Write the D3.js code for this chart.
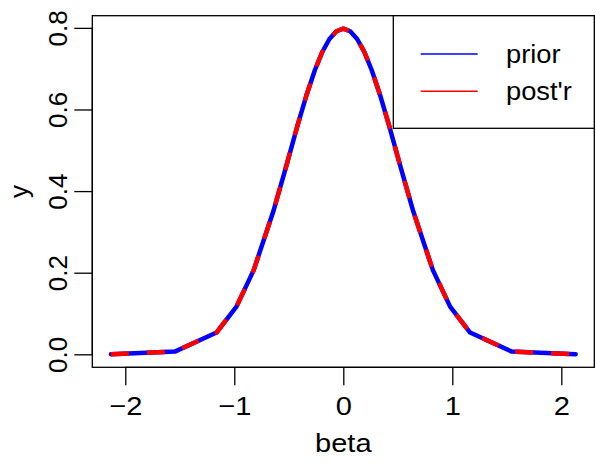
<!DOCTYPE html>
<html>
<head>
<meta charset="utf-8">
<script src="https://cdn.jsdelivr.net/npm/d3@7"></script>
<style>
  body { margin: 0; background: #fff; }
  svg text { font-family: "Liberation Sans", Arial, sans-serif; fill: #000; }
</style>
</head>
<body>
<svg id="chart" width="596" height="464"></svg>
<script>
// beta grid points and the density at each
var betaValues = [-2.132, -1.545, -1.163, -0.980, -0.822, -0.641, -0.518, -0.421, -0.337, -0.262,
                  -0.193, -0.127, -0.063, 0, 0.063, 0.127, 0.193, 0.262, 0.337, 0.421,
                  0.518, 0.641, 0.822, 0.980, 1.163, 1.545, 2.132];
var priorValues = [0.0001, 0.0067, 0.0533, 0.1169, 0.2063, 0.3510, 0.4663, 0.5600, 0.6356, 0.6955,
                   0.7409, 0.7728, 0.7917, 0.7979, 0.7917, 0.7728, 0.7409, 0.6955, 0.6356, 0.5600,
                   0.4663, 0.3510, 0.2063, 0.1169, 0.0533, 0.0067, 0.0001];
var postValues = [0.0001, 0.0067, 0.0533, 0.1169, 0.2063, 0.3510, 0.4663, 0.5600, 0.6356, 0.6955,
                  0.7409, 0.7728, 0.7917, 0.7979, 0.7917, 0.7728, 0.7409, 0.6955, 0.6356, 0.5600,
                  0.4663, 0.3510, 0.2063, 0.1169, 0.0533, 0.0067, 0.0001];
var xTicks = [-2, -1, 0, 1, 2];
var yTicks = [0, 0.2, 0.4, 0.6, 0.8];
var legendLabels = ["prior", "post'r"];
var seriesColors = ["#0000ff", "#ff0000"];

var PLOT_LEFT = 92.3, PLOT_RIGHT = 594.3, PLOT_TOP = 15.7, PLOT_BOTTOM = 367.3;
var TICK_LEN = 18;
var FONT_SIZE = 26;
var TEXT_STRETCH = 1.12;   // horizontal text in the reference is a bit wider
var LINE_WIDTH = 4.5;

var svg = d3.select("#chart");

// R style axis range: data range widened by 4% each side
function padded(ext) {
    var d = (ext[1] - ext[0]) * 0.04;
    return [ext[0] - d, ext[1] + d];
}
var xScale = d3.scaleLinear()
    .domain(padded(d3.extent(betaValues)))
    .range([PLOT_LEFT, PLOT_RIGHT]);
var yScale = d3.scaleLinear()
    .domain(padded(d3.extent(priorValues.concat(postValues))))
    .range([PLOT_BOTTOM, PLOT_TOP]);

// curves
var line = d3.line()
    .x((d, i) => xScale(betaValues[i]))
    .y(d => yScale(d));

svg.append("path")
    .attr("d", line(priorValues))
    .attr("fill", "none")
    .attr("stroke", seriesColors[0])
    .attr("stroke-width", LINE_WIDTH)
    .attr("stroke-linejoin", "round")
    .attr("stroke-linecap", "round");

svg.append("path")
    .attr("d", line(postValues))
    .attr("fill", "none")
    .attr("stroke", seriesColors[1])
    .attr("stroke-width", LINE_WIDTH)
    .attr("stroke-linejoin", "round")
    .attr("stroke-dasharray", "18,18");

// plot box
svg.append("rect")
    .attr("x", PLOT_LEFT)
    .attr("y", PLOT_TOP)
    .attr("width", PLOT_RIGHT - PLOT_LEFT)
    .attr("height", PLOT_BOTTOM - PLOT_TOP)
    .attr("fill", "none")
    .attr("stroke", "#000")
    .attr("stroke-width", 1.3);

// x axis
var xAxis = d3.axisBottom(xScale)
    .tickValues(xTicks)
    .tickSize(TICK_LEN)
    .tickFormat(d => d < 0 ? "\u2212" + Math.abs(d) : d);
var gx = svg.append("g")
    .attr("transform", "translate(0," + PLOT_BOTTOM + ")")
    .call(xAxis);
gx.select(".domain")
    .attr("d", "M" + xScale(xTicks[0]) + ",0H" + xScale(xTicks[xTicks.length - 1]));
gx.selectAll("line, .domain").attr("stroke", "#000").attr("stroke-width", 1.3);
gx.selectAll("text")
    .attr("y", 47.5)
    .attr("dy", null)
    .attr("transform", "scale(" + TEXT_STRETCH + ",1)")
    .attr("font-size", FONT_SIZE)
    .attr("font-family", "Liberation Sans, Arial, sans-serif")
    .attr("fill", "#000");

// y axis
var yAxis = d3.axisLeft(yScale)
    .tickValues(yTicks)
    .tickSize(TICK_LEN)
    .tickFormat(d3.format(".1f"));
var gy = svg.append("g")
    .attr("transform", "translate(" + PLOT_LEFT + ",0)")
    .call(yAxis);
gy.select(".domain")
    .attr("d", "M0," + yScale(yTicks[0]) + "V" + yScale(yTicks[yTicks.length - 1]));
gy.selectAll("line, .domain").attr("stroke", "#000").attr("stroke-width", 1.3);
gy.selectAll("text")
    .attr("x", null)
    .attr("dy", null)
    .attr("text-anchor", "middle")
    .attr("transform", "translate(" + (-TICK_LEN - 7.6) + ",0) rotate(-90)")
    .attr("font-size", FONT_SIZE)
    .attr("font-family", "Liberation Sans, Arial, sans-serif")
    .attr("fill", "#000");

// axis titles
svg.append("text")
    .attr("transform", "translate(" + (PLOT_LEFT + PLOT_RIGHT) / 2 + ",451.7) scale(" + TEXT_STRETCH + ",1)")
    .attr("text-anchor", "middle")
    .attr("font-size", FONT_SIZE)
    .text("beta");

svg.append("text")
    .attr("transform", "translate(28," + (PLOT_TOP + PLOT_BOTTOM) / 2 + ") rotate(-90)")
    .attr("text-anchor", "middle")
    .attr("font-size", FONT_SIZE)
    .text("y");

// legend
var legend = svg.append("g");
legend.append("rect")
    .attr("x", 393.3)
    .attr("y", PLOT_TOP)
    .attr("width", PLOT_RIGHT - 393.3)
    .attr("height", 128.3 - PLOT_TOP)
    .attr("fill", "#fff")
    .attr("stroke", "#000")
    .attr("stroke-width", 1.3);

var legendY = [54, 91.3];
legendLabels.forEach(function (lab, i) {
    legend.append("line")
        .attr("x1", 420.7)
        .attr("x2", 477.7)
        .attr("y1", legendY[i])
        .attr("y2", legendY[i])
        .attr("stroke", seriesColors[i])
        .attr("stroke-width", 1.6);
    legend.append("text")
        .attr("transform", "translate(506," + legendY[i] + ") scale(1.05,1)")
        .attr("dy", "0.35em")
        .attr("font-size", FONT_SIZE)
        .text(lab);
});
</script>
</body>
</html>
